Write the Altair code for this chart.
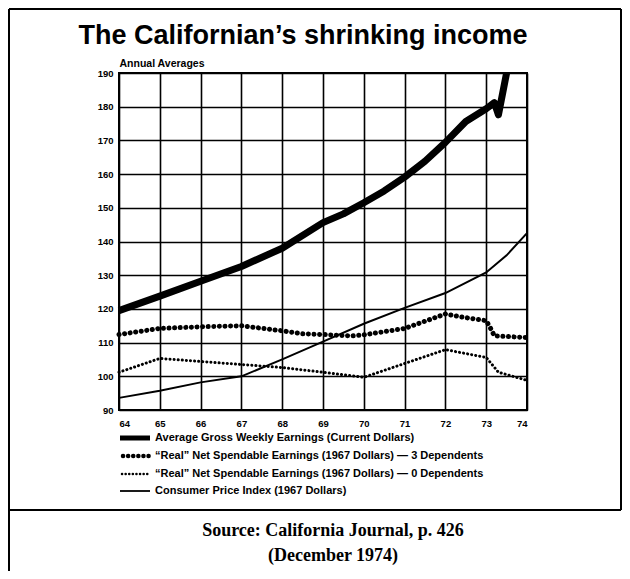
import altair as alt
import pandas as pd

# ---- data ----
years_gross = [64, 65, 66, 67, 68, 69, 69.5, 70, 70.5, 71, 71.5, 72, 72.5, 73, 73.2, 73.3, 73.5]
gross = [119.5, 123.8, 128.2, 132.6, 138.0, 145.6, 148.2, 151.5, 155.0, 159.1, 163.8, 169.4, 175.6, 179.4, 181.2, 177.6, 190.0]

years_dep3 = [64, 65, 66, 67, 68, 68.5, 69, 69.7, 70, 71, 72, 72.5, 73, 73.1, 73.2, 74]
dep3 = [112.4, 114.2, 114.7, 115.0, 113.5, 112.6, 112.4, 112.0, 112.3, 114.2, 118.5, 117.4, 116.5, 114.4, 112.0, 111.5]

years_dep0 = [64, 65, 66, 67, 68, 69, 70, 71, 72, 73, 73.3, 74]
dep0 = [101.2, 105.3, 104.4, 103.5, 102.6, 101.2, 99.7, 103.8, 107.9, 105.6, 101.2, 98.8]

years_cpi = [64, 65, 66, 67, 68, 69, 70, 71, 72, 73, 73.5, 74]
cpi = [93.6, 95.7, 98.2, 100.0, 105.0, 110.3, 115.6, 120.3, 124.7, 130.8, 135.9, 142.5]

x_ticks = [64, 65, 66, 67, 68, 69, 70, 71, 72, 73, 74]
y_ticks = [90, 100, 110, 120, 130, 140, 150, 160, 170, 180, 190]

title_text = "The Californian\u2019s shrinking income"
subtitle_text = "Annual Averages"
legend_labels = [
    "Average Gross Weekly Earnings (Current Dollars)",
    "\u201cReal\u201d Net Spendable Earnings (1967 Dollars) \u2014 3 Dependents",
    "\u201cReal\u201d Net Spendable Earnings (1967 Dollars) \u2014 0 Dependents",
    "Consumer Price Index (1967 Dollars)",
]
source_lines = ["Source: California Journal, p. 426", "(December 1974)"]

SANS = "Liberation Sans"
SERIF = "Liberation Serif"

def frame(xs, ys):
    return pd.DataFrame({"year": xs, "value": ys})

x_enc = alt.X("year:Q", scale=alt.Scale(domain=[64, 74], nice=False, zero=False),
              axis=alt.Axis(values=x_ticks, format="d", title=None, ticks=False, domain=False,
                            grid=True, gridColor="black", gridWidth=1.6, gridOpacity=1,
                            labelFont=SANS, labelFontWeight="bold", labelFontSize=9.5,
                            labelColor="black", labelPadding=8))
y_enc = alt.Y("value:Q", scale=alt.Scale(domain=[90, 190], nice=False, zero=False),
              axis=alt.Axis(values=y_ticks, title=subtitle_text, ticks=False, domain=False,
                            grid=True, gridColor="black", gridWidth=1.6, gridOpacity=1,
                            labelFont=SANS, labelFontWeight="bold", labelFontSize=9.5,
                            labelColor="black", labelPadding=6,
                            titleAngle=0, titleX=0, titleY=-7, titleAlign="left",
                            titleBaseline="alphabetic", titleFont=SANS, titleFontSize=10.5,
                            titleFontWeight="bold", titleColor="black"))

cpi_line = alt.Chart(frame(years_cpi, cpi)).mark_line(
    color="black", strokeWidth=2).encode(x=x_enc, y=y_enc)
dep0_line = alt.Chart(frame(years_dep0, dep0)).mark_line(
    color="black", strokeWidth=3, strokeCap="round", strokeDash=[0.1, 4]).encode(x=x_enc, y=y_enc)
dep3_line = alt.Chart(frame(years_dep3, dep3)).mark_line(
    color="black", strokeWidth=5, strokeCap="round", strokeDash=[0.1, 5.5]).encode(x=x_enc, y=y_enc)
gross_line = alt.Chart(frame(years_gross, gross)).mark_line(
    color="black", strokeWidth=7, strokeJoin="round").encode(x=x_enc, y=y_enc)

one = pd.DataFrame({"k": [0]})

def text_layer(txt, x, y, size, font=SANS, weight="bold", align="left", baseline="middle"):
    return alt.Chart(pd.DataFrame({"t": [txt]})).mark_text(
        font=font, fontSize=size, fontWeight=weight, align=align, baseline=baseline,
        color="black").encode(text="t:N", x=alt.value(x), y=alt.value(y))

def rule_layer(x1, x2, y1, y2, width, dash=None, cap="butt"):
    kw = dict(color="black", strokeWidth=width, strokeCap=cap)
    if dash is not None:
        kw["strokeDash"] = dash
    return alt.Chart(one).mark_rule(**kw).encode(
        x=alt.value(x1), x2=alt.value(x2), y=alt.value(y1), y2=alt.value(y2))

# plot origin at page (119, 73)
title = text_layer(title_text, 184, -29, 27, align="center", baseline="alphabetic")

leg_y = [365, 383, 401, 418]
leg_x0, leg_x1, leg_tx = 1, 31, 36
legend = [
    rule_layer(leg_x0, leg_x1, leg_y[0], leg_y[0], 5),
    rule_layer(leg_x0 + 3, leg_x1, leg_y[1], leg_y[1], 4.5, dash=[0.1, 5], cap="round"),
    rule_layer(leg_x0 + 2, leg_x1, leg_y[2], leg_y[2], 2.5, dash=[0.1, 3.5], cap="round"),
    rule_layer(leg_x0, leg_x1, leg_y[3], leg_y[3], 1.8),
]
for lbl, yy in zip(legend_labels, leg_y):
    legend.append(text_layer(lbl, leg_tx, yy, 11))

sep_y = 437
borders = [
    rule_layer(-110, -110, -64, 498, 2),
    rule_layer(-110, 502, -64, -64, 2),
    rule_layer(502, 502, -64, sep_y, 2),
    rule_layer(-110, 502, sep_y, sep_y, 2),
]
source = [
    text_layer(source_lines[0], 214, 458, 18, font=SERIF, align="center"),
    text_layer(source_lines[1], 214, 483, 18, font=SERIF, align="center"),
]

chart = alt.layer(
    cpi_line, dep0_line, dep3_line, gross_line, title, *legend, *borders, *source
).properties(
    width=408, height=337,
    autosize=alt.AutoSizeParams(type="none"),
    padding={"left": 111, "top": 65, "right": 95, "bottom": 161},
    background="white",
).configure_view(stroke="black", strokeWidth=2)

chart.save("out.html", embed_options={"renderer": "svg", "actions": False})
